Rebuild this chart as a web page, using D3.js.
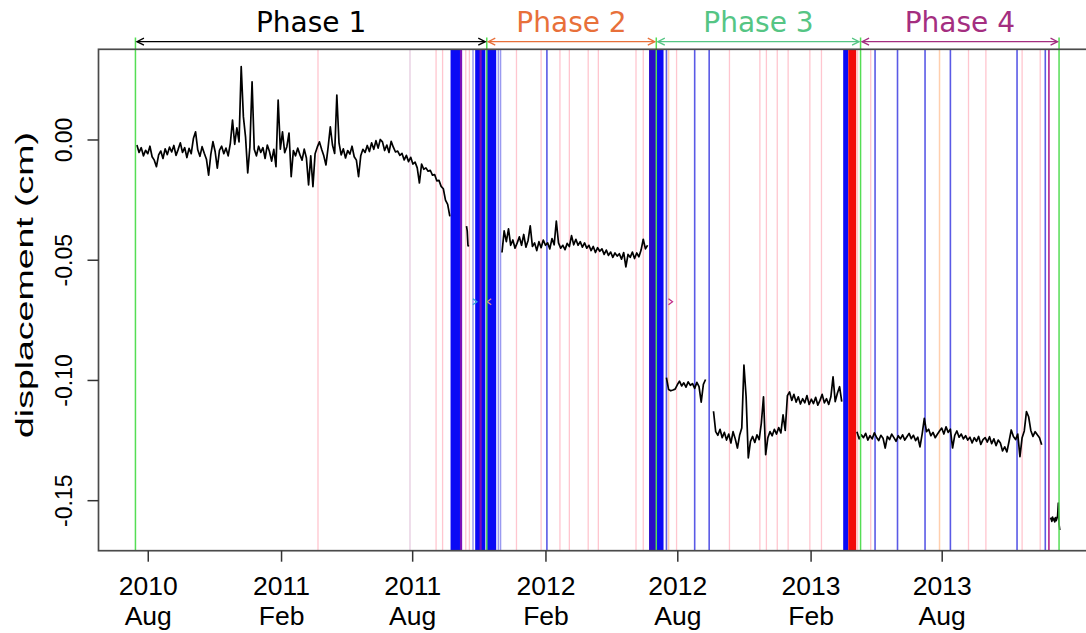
<!DOCTYPE html>
<html>
<head>
<meta charset="utf-8">
<script src="https://cdn.jsdelivr.net/npm/d3@7"></script>
<style>
  body { margin: 0; background: #ffffff; }
  svg { display: block; }
</style>
</head>
<body>
<svg id="chart" width="1086" height="633"></svg>
<script>
// ---- displacement record: one value every `step` days from each start date ----
const s1Start = "2010-07-17", s1Step = 3;
const s1Values = [
  -0.0023,-0.0054,-0.0034,-0.0068,-0.0045,-0.0059,-0.0028,-0.0072,-0.0086,-0.0113,
  -0.0064,-0.0048,-0.0079,-0.0039,-0.0063,-0.0032,-0.0052,-0.0025,-0.0066,-0.0041,
  -0.0014,-0.0054,-0.0034,-0.0075,-0.0037,-0.0059,0.0004,0.0032,-0.0043,-0.0070,
  -0.0030,-0.0057,-0.0082,-0.0148,-0.0063,-0.0009,-0.0050,-0.0119,-0.0045,-0.0028,
  -0.0059,-0.0036,-0.0068,-0.0016,0.0081,-0.0020,0.0048,-0.0010,0.0303,0.0095,
  0.0010,-0.0139,-0.0030,0.0240,-0.0041,-0.0068,-0.0028,-0.0054,-0.0034,-0.0079,
  -0.0023,-0.0050,-0.0090,-0.0041,-0.0113,0.0164,-0.0040,0.0032,-0.0055,-0.0030,
  0.0027,-0.0155,-0.0046,-0.0068,-0.0036,-0.0063,-0.0086,-0.0040,-0.0077,-0.0189,
  -0.0068,-0.0196,-0.0059,-0.0032,-0.0010,-0.0041,-0.0068,-0.0106,-0.0032,0.0053,
  -0.0023,-0.0058,0.0185,-0.0014,-0.0064,-0.0039,-0.0077,-0.0046,-0.0061,-0.0028,
  -0.0072,-0.0086,-0.0155,-0.0068,-0.0041,-0.0054,-0.0025,-0.0050,-0.0014,-0.0041,
  -0.0005,-0.0036,0.0000,-0.0010,-0.0046,-0.0023,-0.0054,-0.0008,-0.0032,-0.0052,
  -0.0048,-0.0066,-0.0058,-0.0085,-0.0066,-0.0092,-0.0074,-0.0102,-0.0094,-0.0118,
  -0.0181,-0.0102,-0.0124,-0.0118,-0.0132,-0.0128,-0.0148,-0.0146,-0.0172,-0.0170,
  -0.0195,-0.0205,-0.0252,-0.0270,-0.0320
];
const s2Start = "2011-10-15", s2Step = 1;
const s2Values = [-0.0360,-0.0380,-0.0440,-0.0445];
const s3Start = "2011-12-03", s3Step = 3;
const s3Values = [
  -0.0470,-0.0380,-0.0425,-0.0372,-0.0440,-0.0418,-0.0452,-0.0430,-0.0405,-0.0440,
  -0.0395,-0.0448,-0.0420,-0.0359,-0.0445,-0.0430,-0.0462,-0.0425,-0.0450,-0.0418,
  -0.0440,-0.0430,-0.0455,-0.0412,-0.0438,-0.0339,-0.0430,-0.0452,-0.0440,-0.0458,
  -0.0432,-0.0445,-0.0400,-0.0438,-0.0415,-0.0440,-0.0425,-0.0448,-0.0430,-0.0452,
  -0.0440,-0.0462,-0.0445,-0.0470,-0.0450,-0.0465,-0.0455,-0.0478,-0.0460,-0.0482,
  -0.0468,-0.0490,-0.0472,-0.0485,-0.0475,-0.0498,-0.0470,-0.0530,-0.0478,-0.0490,
  -0.0468,-0.0495,-0.0472,-0.0488,-0.0460,-0.0415,-0.0455,-0.0440
];
const s4Start = "2012-07-17", s4Step = 3;
const s4Values = [
  -0.0990,-0.1040,-0.1045,-0.1042,-0.1038,-0.1020,-0.1005,-0.1025,-0.1012,-0.1030,
  -0.1008,-0.1022,-0.1015,-0.1035,-0.1010,-0.1028,-0.1092,-0.1018,-0.0998
];
const s5Start = "2012-09-20", s5Step = 3;
const s5Values = [
  -0.1130,-0.1215,-0.1230,-0.1205,-0.1240,-0.1218,-0.1250,-0.1225,-0.1262,-0.1215,
  -0.1245,-0.1283,-0.1230,-0.1200,-0.0938,-0.1070,-0.1324,-0.1255,-0.1235,-0.1260,
  -0.1228,-0.1248,-0.1180,-0.1070,-0.1311,-0.1240,-0.1215,-0.1232,-0.1205,-0.1225,
  -0.1198,-0.1220,-0.1145,-0.1210,-0.1065,-0.1050,-0.1085,-0.1060,-0.1092,-0.1070,
  -0.1100,-0.1078,-0.1095,-0.1065,-0.1102,-0.1080,-0.1098,-0.1072,-0.1105,-0.1085,
  -0.1060,-0.1095,-0.1078,-0.1102,-0.1070,-0.0987,-0.1090,-0.1055,-0.1028,-0.1090
];
const s6Start = "2013-04-06", s6Step = 3;
const s6Values = [
  -0.1215,-0.1245,-0.1228,-0.1240,-0.1222,-0.1250,-0.1232,-0.1245,-0.1220,-0.1238,
  -0.1252,-0.1230,-0.1242,-0.1283,-0.1235,-0.1248,-0.1225,-0.1240,-0.1255,-0.1232,
  -0.1245,-0.1228,-0.1250,-0.1236,-0.1222,-0.1244,-0.1230,-0.1252,-0.1238,-0.1278,
  -0.1225,-0.1160,-0.1215,-0.1205,-0.1232,-0.1218,-0.1240,-0.1226,-0.1212,-0.1200,
  -0.1225,-0.1195,-0.1218,-0.1205,-0.1283,-0.1230,-0.1212,-0.1238,-0.1225,-0.1245,
  -0.1232,-0.1250,-0.1238,-0.1262,-0.1240,-0.1255,-0.1235,-0.1268,-0.1248,-0.1240,
  -0.1258,-0.1236,-0.1265,-0.1245,-0.1273,-0.1250,-0.1262,-0.1295,-0.1278,-0.1299,
  -0.1255,-0.1208,-0.1235,-0.1248,-0.1225,-0.1319,-0.1240,-0.1212,-0.1132,-0.1153,
  -0.1210,-0.1235,-0.1215,-0.1228,-0.1240,-0.1269
];
const s7Start = "2013-12-29", s7Step = 1;
const s7Values = [
  -0.1580,-0.1575,-0.1588,-0.1570,-0.1582,-0.1578,-0.1590,-0.1572,-0.1585,-0.1576,
  -0.1565,-0.1512,-0.1600,-0.1624
];

// ---- phases ----
const phaseNames = ["Phase 1", "Phase 2", "Phase 3", "Phase 4"];
const phaseBounds = ["2010-07-15", "2011-11-12", "2012-07-03", "2013-04-11", "2014-01-10"];

// ---- event lines (dates) ----
const pinkDates = ["2011-03-24","2011-09-03","2011-09-12","2011-10-14","2011-10-19",
  "2011-12-23","2012-01-26","2012-02-21","2012-03-05","2012-03-31","2012-04-14",
  "2012-06-05","2012-06-15","2012-07-31","2012-10-12","2012-11-23","2012-12-02",
  "2012-12-17","2013-01-01","2013-01-31","2013-02-16","2013-04-07","2013-04-25",
  "2013-09-07","2013-10-01","2013-11-20","2013-12-15"];
const paleDates = ["2011-07-29"];
const orangeDates = ["2012-07-20", "2013-07-29"];
const lavenderDates = ["2011-10-24", "2011-11-28", "2011-12-01"];
const blueDates = ["2012-02-03","2012-07-17","2012-08-25","2012-09-14","2013-05-01",
  "2013-06-01","2013-07-09","2013-08-13","2013-11-13","2013-12-22"];
const magentaDates = ["2013-12-27"];
const blueSpans = [["2011-09-23","2011-10-06"],["2011-10-27","2011-11-10"],
  ["2011-11-12","2011-11-25"],["2012-07-04","2012-07-13"],["2013-03-18","2013-03-25"]];
const purpleSpans = [["2011-10-06","2011-10-09"],["2011-11-02","2011-11-05"]];
const indigoSpans = [["2012-06-23","2012-07-03"]];
const redSpans = [["2013-03-25","2013-04-05"]];

// small direction marks inside the panel
const markDates = ["2011-10-28", "2011-11-14", "2012-07-24"];
const markDirs = [1, -1, 1];
const markLevel = -0.0675;

// ---- axes ----
const xTickDates = ["2010-08-01","2011-02-01","2011-08-01","2012-02-01","2012-08-01","2013-02-01","2013-08-01"];
const yTicks = [0, -0.05, -0.10, -0.15];
const yLabel = "displacement (cm)";

// ---------------------------------------------------------------
const parse = d3.utcParse("%Y-%m-%d");
const svg = d3.select("#chart");

const plot = { left: 98.5, right: 1096, top: 49.3, bottom: 550.7 };

const bounds = phaseBounds.map(parse);
const span = bounds[bounds.length - 1] - bounds[0];
const x = d3.scaleUtc()
  .domain([new Date(+bounds[0] - 0.04 * span), new Date(+bounds[bounds.length - 1] + 0.04 * span)])
  .range([plot.left, plot.right]);
const y = d3.scaleLinear().domain([-0.171, 0.0375]).range([plot.bottom, plot.top]);

function series(start, step, values) {
  const t0 = parse(start);
  return values.map((v, i) => ({ date: d3.utcDay.offset(t0, i * step), value: v }));
}
const segments = [
  series(s1Start, s1Step, s1Values),
  series(s2Start, s2Step, s2Values),
  series(s3Start, s3Step, s3Values),
  series(s4Start, s4Step, s4Values),
  series(s5Start, s5Step, s5Values),
  series(s6Start, s6Step, s6Values),
  series(s7Start, s7Step, s7Values)
];

svg.append("defs").append("clipPath").attr("id", "panel")
  .append("rect").attr("x", plot.left).attr("y", plot.top)
  .attr("width", plot.right - plot.left).attr("height", plot.bottom - plot.top);

const panel = svg.append("g").attr("clip-path", "url(#panel)");

function vlines(dates, color, width) {
  panel.append("g").selectAll("line").data(dates.map(parse)).join("line")
    .attr("x1", d => x(d)).attr("x2", d => x(d))
    .attr("y1", plot.top).attr("y2", plot.bottom)
    .attr("stroke", color).attr("stroke-width", width);
}
function spans(list, color) {
  panel.append("g").selectAll("rect").data(list).join("rect")
    .attr("x", d => x(parse(d[0])))
    .attr("width", d => x(parse(d[1])) - x(parse(d[0])))
    .attr("y", plot.top).attr("height", plot.bottom - plot.top)
    .attr("fill", color);
}

vlines(pinkDates, "#FFC6CF", 1.3);
vlines(paleDates, "#E6CCE0", 1.3);
vlines(orangeDates, "#FFCFAE", 1.5);
vlines(lavenderDates, "#9A9AF0", 1.5);
vlines(blueDates, "#5A5AE6", 1.6);
vlines(magentaDates, "#B0208C", 1.6);
spans(blueSpans, "#0A0AF5");
spans(purpleSpans, "#7A10B8");
spans(indigoSpans, "#2C0CC8");
spans(redSpans, "#F20A0A");

// displacement line
const line = d3.line().x(d => x(d.date)).y(d => y(d.value));
panel.append("g").selectAll("path").data(segments).join("path")
  .attr("d", line).attr("fill", "none").attr("stroke", "#000")
  .attr("stroke-width", 1.7).attr("stroke-linejoin", "round");

// direction marks
const markColors = ["#3AA6DA", "#E0869C", "#C22C8A"];
markDates.forEach((d, i) => {
  const cx = x(parse(d)), cy = y(markLevel), s = markDirs[i];
  panel.append("path")
    .attr("d", `M${cx - s * 3},${cy - 3}L${cx + s * 1},${cy}L${cx - s * 3},${cy + 3}`)
    .attr("fill", "none").attr("stroke", markColors[i]).attr("stroke-width", 1.3);
});

// phase boundary lines (run up above the panel)
svg.append("g").selectAll("line").data(bounds).join("line")
  .attr("x1", d => x(d)).attr("x2", d => x(d))
  .attr("y1", 37.5).attr("y2", plot.bottom)
  .attr("stroke", "#55DD55").attr("stroke-width", 1.5);

// frame
svg.append("rect").attr("x", plot.left).attr("y", plot.top)
  .attr("width", plot.right - plot.left).attr("height", plot.bottom - plot.top)
  .attr("fill", "none").attr("stroke", "#4a4a4a").attr("stroke-width", 1.7);

// x axis
const xAxis = svg.append("g").attr("transform", `translate(0,${plot.bottom})`)
  .call(d3.axisBottom(x).tickValues(xTickDates.map(parse)).tickSize(11).tickFormat(""));
xAxis.select(".domain").remove();
xAxis.selectAll(".tick line").attr("stroke", "#333").attr("stroke-width", 1.5);
const fy = d3.utcFormat("%Y"), fm = d3.utcFormat("%b");
xAxis.selectAll(".tick").each(function (d) {
  const g = d3.select(this);
  g.append("text").attr("y", 44.5).attr("text-anchor", "middle")
    .attr("font-family", "Liberation Sans, Arial, sans-serif").attr("font-size", 26.5)
    .attr("fill", "#000").text(fy(d));
  g.append("text").attr("y", 74.5).attr("text-anchor", "middle")
    .attr("font-family", "Liberation Sans, Arial, sans-serif").attr("font-size", 26.5)
    .attr("fill", "#000").text(fm(d));
});

// y axis
const yAxis = svg.append("g").attr("transform", `translate(${plot.left},0)`)
  .call(d3.axisLeft(y).tickValues(yTicks).tickSize(11).tickFormat(""));
yAxis.select(".domain").remove();
yAxis.selectAll(".tick line").attr("stroke", "#333").attr("stroke-width", 1.5);
yAxis.selectAll(".tick").append("text")
  .attr("transform", "translate(-26.5,0) rotate(-90)")
  .attr("text-anchor", "middle").attr("x", 0).attr("y", 0)
  .attr("font-family", "Liberation Sans, Arial, sans-serif").attr("font-size", 23)
  .attr("fill", "#000").text(d => d.toFixed(2));

svg.append("text")
  .attr("transform", "translate(33,285) rotate(-90)")
  .attr("text-anchor", "middle")
  .attr("font-family", "Liberation Sans, Arial, sans-serif").attr("font-size", 23)
  .attr("textLength", 306).attr("lengthAdjust", "spacingAndGlyphs")
  .attr("fill", "#000").text(yLabel);

// phase arrows and titles
const phaseColors = ["#000000", "#E8703A", "#55C584", "#A42E80"];
const arrowY = 41.7;
phaseNames.forEach((name, i) => {
  const x0 = x(bounds[i]) + 1.5, x1 = x(bounds[i + 1]) - 1.5;
  const g = svg.append("g").attr("stroke", phaseColors[i]).attr("stroke-width", 1.3).attr("fill", "none");
  g.append("line").attr("x1", x0).attr("x2", x1).attr("y1", arrowY).attr("y2", arrowY);
  g.append("path").attr("d", `M${x0 + 7},${arrowY - 3.5}L${x0},${arrowY}L${x0 + 7},${arrowY + 3.5}`);
  g.append("path").attr("d", `M${x1 - 7},${arrowY - 3.5}L${x1},${arrowY}L${x1 - 7},${arrowY + 3.5}`);
  svg.append("text")
    .attr("x", (x0 + x1) / 2).attr("y", 31.5).attr("text-anchor", "middle")
    .attr("font-family", "DejaVu Sans, Verdana, sans-serif").attr("font-size", 28)
    .attr("fill", phaseColors[i]).text(name);
});
</script>
</body>
</html>
